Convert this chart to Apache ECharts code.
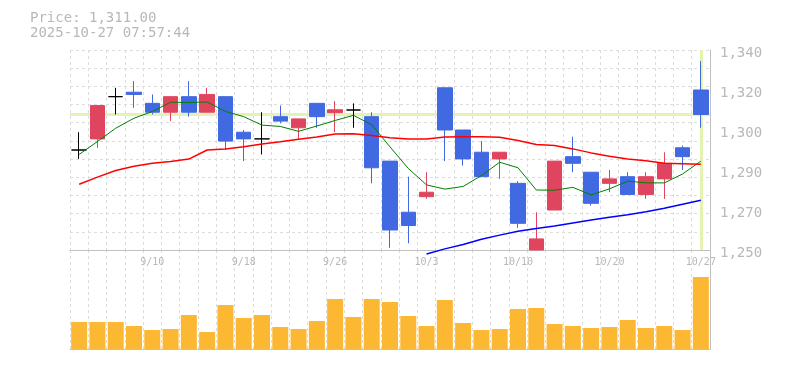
<!DOCTYPE html>
<html><head><meta charset="utf-8">
<script src="https://cdn.jsdelivr.net/npm/echarts/dist/echarts.min.js"></script>
<style>html,body{margin:0;padding:0;background:#fff}#c{width:785px;height:370px}</style>
</head><body><div id="c"></div>
<script>
const titleLines = ['Price: 1,311.00', '2025-10-27 07:57:44'];
const lastPrice = 1311;
const dates = ['9/4','9/5','9/8','9/9','9/10','9/11','9/12','9/16','9/17','9/18','9/19','9/22','9/24','9/25','9/26','9/29','9/30','10/1','10/2','10/3','10/6','10/7','10/8','10/9','10/10','10/14','10/15','10/16','10/17','10/20','10/21','10/22','10/23','10/24','10/27'];
const opens  = [1295,1300,1319,1321,1316,1312,1319,1312,1319,1303,1300,1310,1305,1316,1311.8,1313,1310,1290,1267,1274,1323,1304,1294,1291,1280,1250,1268,1292,1285,1280,1283,1275,1282,1296,1322];
const closes = [1295,1315,1319,1320,1312,1319,1312,1320,1299,1300,1300,1308,1309,1310,1313.1,1313,1287,1259,1261,1276,1304,1291,1283,1294,1262,1255,1290,1289,1271,1282,1275,1283,1289,1292,1311];
const lows   = [1291,1296,1311,1314,1311,1308,1310,1312,1295,1290,1293,1307,1300,1305,1303,1305,1280,1251,1253,1273,1290,1288,1283,1282,1260,1250,1268,1285,1270,1276,1275,1273,1273,1286,1305];
const highs  = [1303,1315,1323,1326,1320,1319,1326,1323,1319,1304,1312,1315,1309,1316,1317,1316,1312,1290,1283,1285,1323,1304,1299,1294,1281,1267,1290,1301,1285,1286,1285,1285,1294,1297,1335];
const ma5  = [1293,1298.8,1304.8,1309.3,1312.3,1316.5,1316.4,1316.6,1312.4,1310,1306.2,1305.6,1303.4,1305.8,1308.3,1310.6,1306.4,1296.4,1286.7,1279.3,1277.4,1278.6,1283.5,1289.5,1287,1277,1276.9,1278.2,1274.8,1277.5,1281,1280.2,1280.2,1284.2,1290];
const ma25 = [1279.6,1282.8,1285.8,1287.7,1289,1289.8,1290.9,1295,1295.5,1296.5,1297.7,1298.7,1299.8,1300.9,1302.2,1302.3,1301.5,1300.5,1300,1300,1300.8,1301,1301,1300.7,1299.3,1297.5,1297,1295.5,1293.7,1292.2,1291,1290.2,1289,1288.8,1288.6];
const ma75 = [null,null,null,null,null,null,null,null,null,null,null,null,null,null,null,null,null,null,null,1248.2,1250.5,1252.5,1254.8,1256.7,1258.4,1259.7,1260.8,1262.2,1263.5,1264.7,1265.9,1267.2,1268.8,1270.6,1272.4];
const volumes = [27000,27000,27000,23000,19000,20000,34000,17000,44000,31000,34000,22000,20000,28000,50000,32000,50000,47000,33000,23000,49000,26000,19000,20000,40000,41000,25000,23000,21000,22000,29000,21000,23000,19000,72000];
const yTickLabels = ['1,250','1,270','1,290','1,300','1,320','1,340'];

const FONT = 'DejaVu Sans Mono';
const GRID_COLOR = '#dcdcdc';
const AXIS_COLOR = '#c0c0c0';
const TEXT_COLOR = '#b8b8b8';

const chart = echarts.init(document.getElementById('c'), null, {renderer: 'canvas'});
const candleData = dates.map((d, i) => [opens[i], closes[i], lows[i], highs[i]]);

const option = {
  animation: false,
  backgroundColor: '#fff',
  title: {
    left: 30, top: 11, padding: 0,
    text: titleLines.join('\n'),
    textStyle: {fontFamily: FONT, fontSize: 14, fontWeight: 'normal', color: TEXT_COLOR, lineHeight: 15}
  },
  grid: [
    {left: 70, right: 75, top: 50, height: 200},
    {left: 70, right: 75, top: 250, height: 99}
  ],
  xAxis: [
    {
      type: 'category', gridIndex: 0, data: dates, boundaryGap: true,
      axisLine: {show: true, onZero: false, lineStyle: {color: AXIS_COLOR, width: 1}},
      axisTick: {show: false},
      axisLabel: {
        show: true, margin: 7, color: TEXT_COLOR, fontFamily: FONT, fontSize: 10,
        interval: (i) => i % 5 === 4, hideOverlap: false
      },
      splitLine: {show: true, interval: 0, lineStyle: {color: GRID_COLOR, type: [3, 3], width: 1}}
    },
    {
      type: 'category', gridIndex: 1, data: dates, boundaryGap: true,
      axisLine: {show: true, onZero: false, lineStyle: {color: AXIS_COLOR, width: 1}},
      axisTick: {show: false},
      axisLabel: {show: false},
      splitLine: {show: true, interval: 0, lineStyle: {color: GRID_COLOR, type: [3, 3], width: 1}}
    }
  ],
  yAxis: [
    {type: 'value', gridIndex: 0, min: 1250, max: 1340, show: false, splitLine: {show: false}},
    {
      type: 'value', gridIndex: 0, min: 0, max: yTickLabels.length - 1, interval: 1, position: 'right',
      axisLine: {show: true, lineStyle: {color: AXIS_COLOR, width: 1}},
      axisTick: {show: false},
      splitLine: {show: false},
      axisLabel: {
        show: true, margin: 10, color: TEXT_COLOR, fontFamily: FONT, fontSize: 14,
        verticalAlign: 'top', lineHeight: 7,
        formatter: (v) => yTickLabels[Math.round(v)]
      }
    },
    {
      type: 'value', gridIndex: 0, min: 0, max: 11, interval: 1, position: 'left',
      axisLine: {show: false}, axisTick: {show: false}, axisLabel: {show: false},
      splitLine: {show: true, lineStyle: {color: GRID_COLOR, type: [3, 3], width: 1}}
    },
    {
      type: 'value', gridIndex: 1, min: 0, max: 99000, position: 'right',
      axisLine: {show: true, lineStyle: {color: AXIS_COLOR, width: 1}},
      axisTick: {show: false}, axisLabel: {show: false}, splitLine: {show: false}
    }
  ],
  series: [
    {
      type: 'line', xAxisIndex: 0, yAxisIndex: 0, data: dates.map(() => null),
      symbol: 'none', silent: true, z: 1,
      markLine: {
        silent: true, symbol: 'none', animation: false,
        label: {show: false},
        lineStyle: {color: '#e4f2b2', width: 3, type: 'solid'},
        data: [{yAxis: lastPrice}, {xAxis: dates[dates.length - 1]}]
      }
    },
    {
      type: 'candlestick', xAxisIndex: 0, yAxisIndex: 0, data: candleData,
      barWidth: 15, z: 10,
      itemStyle: {
        color: '#e0455f', color0: '#4169e1',
        borderColor: '#e0455f', borderColor0: '#4169e1',
        borderColorDoji: '#000000', borderWidth: 1
      }
    },
    {
      type: 'line', xAxisIndex: 0, yAxisIndex: 0, data: ma5, symbol: 'none', z: 11,
      lineStyle: {color: '#008000', width: 1}
    },
    {
      type: 'line', xAxisIndex: 0, yAxisIndex: 0, data: ma25, symbol: 'none', z: 11,
      lineStyle: {color: '#ff0000', width: 1.5}
    },
    {
      type: 'line', xAxisIndex: 0, yAxisIndex: 0, data: ma75, symbol: 'none', z: 11, clip: false,
      lineStyle: {color: '#0000ff', width: 1.5}
    },
    {
      type: 'bar', xAxisIndex: 1, yAxisIndex: 3, data: volumes, barWidth: 16, z: 5,
      itemStyle: {color: '#fdb833'}
    }
  ]
};
chart.setOption(option);
</script></body></html>
